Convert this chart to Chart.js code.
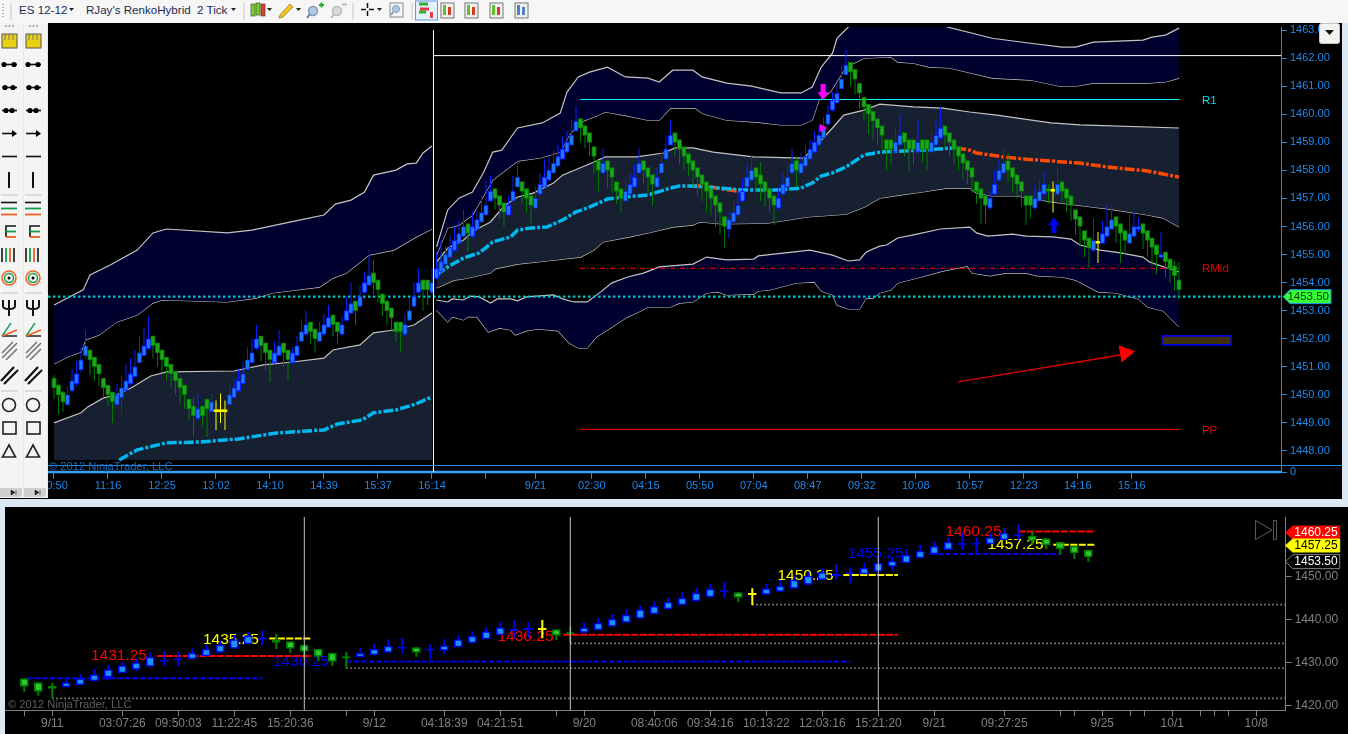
<!DOCTYPE html>
<html>
<head>
<meta charset="utf-8">
<title>ES 12-12</title>
<script src="https://cdn.jsdelivr.net/npm/chart.js@4"></script>
<style>
html,body{margin:0;padding:0;width:1348px;height:734px;overflow:hidden;background:#dce8f5;font-family:"Liberation Sans",Arial,sans-serif;}
.abs{position:absolute;}
#topbar{left:0;top:0;width:1348px;height:23px;background:#f6f6f6;font-size:11.6px;color:#1a2a50;}
#topbar span{position:absolute;top:3px;white-space:pre;}
#topWrap{left:0;top:17px;width:1342px;height:482px;background:#000;}
#lowWrap{left:0;top:507px;width:1348px;height:227px;background:#000;}
#lowMargin{left:0;top:507px;width:5px;height:227px;background:#dce8f5;}
.copy{white-space:nowrap;font-size:11.2px;}
</style>
</head>
<body>
<div class="abs" id="topWrap"><canvas id="priceChart" width="1342" height="482"></canvas></div>
<div class="abs" id="lowWrap"><canvas id="dailyChart" width="1348" height="227"></canvas></div>
<div class="abs" id="lowMargin"></div>
<div class="abs copy" style="left:49px;top:460px;color:#1c68b8;">© 2012 NinjaTrader, LLC</div>
<div class="abs copy" style="left:8px;top:698px;color:#5e5e5e;">© 2012 NinjaTrader, LLC</div>
<div class="abs" id="topbar">
<span style="left:19px;">ES 12-12</span>
<span style="left:86px;">RJay's RenkoHybrid  2 Tick</span>
<svg class="abs" width="1348" height="23" style="left:0;top:0;">
<path d="M11 3V20" stroke="#c8c8c8"/><path d="M3 4v14" stroke="#b0b0b0" stroke-dasharray="1 2" stroke-width="2"/>
<path d="M69 8h5l-2.500 3z M231 8h5l-2.500 3z M267 8h5l-2.500 3z M296 8h5l-2.500 3z M377 8h5l-2.500 3z" fill="#222"/>
<path d="M244 3V20 M353 3V20 M412 3V20" stroke="#c8c8c8"/>
<rect x="251" y="4" width="4" height="12" fill="#7ad02a" stroke="#333" stroke-width=".6"/>
<rect x="256" y="3" width="4" height="12" fill="#7ad02a" stroke="#333" stroke-width=".6"/>
<rect x="261" y="4" width="4" height="12" fill="#e04020" stroke="#333" stroke-width=".6"/>
<path d="M280 15L290 4l3 3-10 10-4 1z" fill="#f2c820" stroke="#8a6a10" stroke-width=".7"/>
<circle cx="313" cy="11" r="4.500" fill="#a8c8ee" stroke="#8a9aaa" stroke-width="1.500"/><path d="M310 14l-3 4" stroke="#6080b0" stroke-width="2"/><path d="M319 5h5M321.500 2.500v5" stroke="#20b020" stroke-width="2"/>
<circle cx="337" cy="11" r="4.500" fill="#d8d8d8" stroke="#bbb" stroke-width="1.500"/><path d="M334 14l-3 4" stroke="#bbb" stroke-width="2"/><path d="M342 4.500h5" stroke="#bbb" stroke-width="2"/>
<path d="M361 9.500h5M369 9.500h5M367.500 3v5M367.500 11v5" stroke="#111" stroke-width="1.500"/>
<rect x="390" y="3" width="13" height="14" fill="#f4f4f4" stroke="#888"/><circle cx="396" cy="9" r="3.500" fill="#a8c8ee" stroke="#8a9aaa"/><path d="M393 12l-2 3" stroke="#8090a0" stroke-width="1.500"/>
<rect x="415.500" y="1" width="22" height="19" fill="#e4f0fc" stroke="#5a9ae0"/>
<path d="M419 4h9M419 12h7" stroke="#30b030" stroke-width="3"/><path d="M420 9h9" stroke="#e04040" stroke-width="3"/><rect x="430" y="12" width="3" height="6" fill="#e04040"/>
<g id="tbIcons"></g>
</svg>
</div>
<svg class="abs" id="leftTools" width="48" height="500" style="left:0;top:0;"></svg>
<svg class="abs" width="22" height="22" style="left:1319px;top:23px;">
<rect x=".5" y=".5" width="20" height="20" rx="2" fill="#f2f2f2" stroke="#c4c4c4"/><path d="M6 7h9l-4.500 5z" fill="#111"/>
</svg>
<svg class="abs" width="24" height="24" style="left:1254px;top:518px;">
<path d="M1.500 2.500V21.500L18 12z M19.500 2.500h3v19h-3z" fill="none" stroke="#5a5a5a" stroke-width="1"/>
</svg>

<script>
// ---------- upper panel: 2 tick renko bars ----------
const opens = [
1450.6,1450.35,1450.1,1449.65,1450.15,1450.4,1450.9,1451.4,1451.6,1451.35,
1451.1,1450.6,1450.35,1450.1,1449.65,1449.9,1450.15,1450.4,1450.65,1451.15,
1451.4,1451.65,1452.1,1451.85,1451.6,1451.35,1451.1,1450.85,1450.6,1450.35,
1449.85,1449.6,1449.15,1449.6,1449.85,1449.4,1449.4,1449.4,1449.4,1449.65,
1449.9,1450.15,1450.4,1450.9,1451.15,1451.65,1452.1,1451.85,1451.6,1451.15,
1451.4,1451.85,1451.6,1451.15,1451.4,1451.9,1452.15,1452.6,1452.35,1451.9,
1452.15,1452.4,1452.85,1452.6,1452.15,1452.65,1452.9,1453.35,1453.15,1453.65,
1453.9,1454.35,1454.1,1453.6,1453.35,1453.1,1452.6,1452.6,1452.15,1452.65,
1453.15,1453.65,1454.1,1454.1,1453.65,1454.15,1454.4,1454.65,1454.9,1455.15,
1455.4,1455.65,1456.1,1455.65,1455.9,1456.15,1456.4,1456.9,1457.35,1457.1,
1456.85,1456.4,1456.9,1457.4,1457.6,1457.35,1457.1,1456.65,1457.15,1457.4,
1457.65,1457.9,1458.15,1458.4,1458.65,1458.9,1459.4,1459.85,1459.6,1459.35,
1458.85,1458.35,1457.9,1458.35,1458.1,1457.6,1457.35,1456.9,1457.15,1457.4,
1457.9,1458.35,1458.1,1457.85,1457.4,1457.9,1458.4,1458.9,1459.35,1459.1,
1458.85,1458.6,1458.35,1458.1,1457.85,1457.6,1457.35,1457.1,1456.85,1456.35,
1455.9,1456.15,1456.4,1456.9,1457.4,1457.65,1458.1,1457.85,1457.6,1457.35,
1457.1,1456.65,1457.15,1457.4,1457.9,1458.35,1457.9,1458.15,1458.4,1458.65,
1458.9,1459.15,1459.65,1460.15,1460.4,1460.9,1461.4,1461.85,1461.6,1461.1,
1460.6,1460.35,1460.1,1459.85,1459.6,1459.1,1459.1,1458.65,1458.9,1459.35,
1459.1,1459.1,1458.65,1459.1,1459.1,1458.65,1458.9,1459.15,1459.6,1459.35,
1459.1,1458.85,1458.6,1458.35,1458.1,1457.6,1457.35,1457.1,1456.65,1457.15,
1457.65,1457.9,1458.35,1458.1,1457.85,1457.6,1457.1,1457.1,1456.65,1456.9,
1457.15,1457.35,1457.25,1457.15,1457.6,1457.35,1457.1,1456.6,1456.35,1455.85,
1455.6,1455.15,1455.4,1455.4,1455.65,1455.9,1456.35,1456.1,1455.85,1455.4,
1455.65,1455.9,1456.1,1455.85,1455.6,1455.35,1454.9,1455.1,1454.85,1454.6,
1454.1];
const closes = [
1450.25,1450,1449.75,1450,1450.5,1450.75,1451.25,1451.75,1451.25,1451,
1450.75,1450.25,1450,1449.75,1450,1450.25,1450.5,1450.75,1451,1451.5,
1451.75,1452,1451.75,1451.5,1451.25,1451,1450.75,1450.5,1450.25,1450,
1449.5,1449.25,1449.5,1449.25,1449.5,1449.75,1449.4,1449.4,1449.4,1450,
1450.25,1450.5,1450.75,1451.25,1451.5,1452,1451.75,1451.5,1451.25,1451.5,
1451.75,1451.5,1451.25,1451.5,1451.75,1452.25,1452.5,1452.25,1452,1452.25,
1452.5,1452.75,1452.5,1452.25,1452.5,1453,1453.25,1453,1453.5,1454,
1454.25,1454,1453.75,1453.25,1453,1452.75,1452.25,1452.25,1452.5,1453,
1453.5,1454,1453.75,1453.75,1454,1454.5,1454.75,1455,1455.25,1455.5,
1455.75,1456,1455.75,1456,1456.25,1456.5,1456.75,1457.25,1457,1456.75,
1456.5,1456.75,1457.25,1457.75,1457.25,1457,1456.75,1457,1457.5,1457.75,
1458,1458.25,1458.5,1458.75,1459,1459.25,1459.75,1459.5,1459.25,1459,
1458.5,1458,1458.25,1458,1457.75,1457.25,1457,1457.25,1457.5,1457.75,
1458.25,1458,1457.75,1457.5,1457.75,1458.25,1458.75,1459.25,1459,1458.75,
1458.5,1458.25,1458,1457.75,1457.5,1457.25,1457,1456.75,1456.5,1456,
1456.25,1456.5,1456.75,1457.25,1457.75,1458,1457.75,1457.5,1457.25,1457,
1456.75,1457,1457.5,1457.75,1458.25,1458,1458.25,1458.5,1458.75,1459,
1459.25,1459.5,1460,1460.5,1460.75,1461.25,1461.75,1461.5,1461.25,1460.75,
1460.25,1460,1459.75,1459.5,1459.25,1458.75,1458.75,1459,1459.25,1459,
1458.75,1458.75,1459,1458.75,1458.75,1459,1459.25,1459.5,1459.25,1459,
1458.75,1458.5,1458.25,1458,1457.75,1457.25,1457,1456.75,1457,1457.5,
1458,1458.25,1458,1457.75,1457.5,1457.25,1456.75,1456.75,1457,1457.25,
1457.5,1457.25,1457.25,1457.5,1457.25,1457,1456.75,1456.25,1456,1455.5,
1455.25,1455.5,1455.4,1455.75,1456,1456.25,1456,1455.75,1455.5,1455.75,
1456,1456,1455.75,1455.5,1455.25,1455,1455,1454.75,1454.5,1454.25,
1453.75];
const highs = [
1450.7,1450.4,1450.15,1450.3,1450.9,1451.2,1451.7,1452.3,1451.6,1451.35,
1451.1,1450.6,1450.35,1450.1,1450.4,1450.7,1451.1,1451.3,1451.6,1452.1,
1452.4,1452.8,1452.1,1451.85,1451.6,1451.35,1451.1,1450.85,1450.6,1450.35,
1449.85,1449.9,1450.05,1449.6,1449.85,1450.05,1449.8,1450.05,1449.8,1450.4,
1450.6,1450.9,1451.2,1451.7,1452,1452.5,1452.1,1451.85,1451.6,1451.9,
1452.3,1451.85,1451.6,1451.7,1452.1,1452.7,1453,1452.6,1452.35,1452.6,
1452.9,1453.2,1452.85,1452.6,1452.8,1453.5,1454,1453.35,1453.9,1454.4,
1455,1454.8,1454.1,1453.6,1453.35,1453.1,1452.6,1452.6,1452.9,1453.4,
1454,1454.5,1454.1,1454.1,1454.5,1455.1,1455.5,1455.3,1455.7,1456,
1456.2,1456.6,1456.1,1456.5,1456.6,1457.1,1457.6,1457.8,1457.35,1457.1,
1456.85,1457.1,1457.8,1458.4,1457.6,1457.35,1457.1,1457.4,1457.9,1458.4,
1458.5,1458.7,1458.9,1459.2,1459.4,1459.8,1460.3,1459.85,1459.6,1459.35,
1458.85,1458.35,1458.8,1458.35,1458.1,1457.6,1457.35,1457.7,1457.9,1458.2,
1458.8,1458.35,1458.1,1457.85,1458.1,1458.7,1459.2,1459.8,1459.35,1459.1,
1458.85,1458.6,1458.35,1458.1,1457.85,1457.6,1457.35,1457.1,1456.85,1456.35,
1456.5,1456.9,1457.3,1457.7,1458.2,1458.55,1458.1,1458.3,1457.6,1457.35,
1457.1,1457.4,1457.9,1458.2,1458.8,1458.5,1458.6,1458.9,1459.1,1459.4,
1459.6,1459.9,1460.3,1460.8,1461.1,1461.7,1462.3,1461.85,1461.6,1461.1,
1460.6,1460.35,1460.1,1459.85,1459.6,1459.1,1459.1,1459.5,1460,1459.35,
1459.1,1459.1,1459.8,1459.1,1459.1,1459.4,1459.8,1460.25,1459.6,1459.35,
1459.1,1458.85,1458.6,1458.35,1458.1,1457.6,1457.35,1457.1,1457.3,1458,
1458.4,1458.8,1458.6,1458.1,1457.85,1457.6,1457.1,1457.1,1457.5,1457.7,
1458,1457.5,1457.6,1458.1,1457.6,1457.35,1457.1,1456.6,1456.35,1455.85,
1455.6,1456.3,1455.8,1456.2,1456.75,1456.7,1456.35,1456.1,1455.85,1456.5,
1456.5,1456.3,1456.1,1455.85,1455.6,1455.35,1455.8,1455.1,1454.85,1454.75,
1454.75];
const lows = [
1449.85,1449.3,1449.4,1449.6,1450.1,1450.3,1450.8,1451.3,1450.7,1450.5,
1450.3,1449.9,1449.6,1449,1449.6,1449.3,1450.1,1450.3,1450.6,1451.1,
1451.4,1451.6,1451.3,1451,1450.8,1450.5,1450.3,1450,1449.7,1449.5,
1449.1,1448.5,1449.1,1448.9,1448.5,1449.4,1448.75,1449,1448.75,1449.6,
1449.9,1450.1,1450.4,1450.9,1451.1,1451.6,1451.2,1450.9,1450.45,1451.1,
1451.4,1451,1450.5,1451.1,1451.4,1451.9,1452.1,1451.8,1451.5,1451.9,
1452.1,1452.4,1452.1,1451.8,1452.1,1452.6,1452.9,1452.5,1453.1,1453.6,
1453.9,1453.6,1453.3,1452.8,1452.5,1452.3,1451.9,1451.5,1452.1,1452.6,
1453.1,1453.6,1453,1453.2,1453.6,1454.1,1454.3,1454.6,1454.9,1455.1,
1455.4,1455.6,1455.1,1455.6,1455.9,1456.1,1456.4,1456.9,1456.6,1456.3,
1456,1456.4,1456.9,1457.4,1456.8,1456.5,1456.1,1456.6,1457.1,1457.4,
1457.6,1457.9,1458.1,1458.4,1458.6,1458.9,1459.4,1459,1458.8,1458.5,
1457.9,1457.25,1457.9,1457.4,1457.2,1456.8,1456.5,1456.9,1457.1,1457.4,
1457.9,1457.5,1457.2,1456.75,1457.4,1457.9,1458.4,1458.9,1458.5,1458.2,
1458,1457.8,1457.4,1457.1,1456.9,1456.5,1456.4,1456,1455.7,1455.25,
1455.6,1456.1,1456.4,1456.9,1457.4,1457.6,1457.2,1456.9,1456.7,1456.5,
1456.05,1456.6,1457.1,1457.4,1457.9,1457.4,1457.9,1458.1,1458.4,1458.6,
1458.9,1459.1,1459.6,1460.1,1460.4,1460.9,1461.4,1461,1460.7,1460.2,
1459.8,1459.3,1459.1,1458.9,1458.7,1458,1458.2,1458.6,1458.9,1458.5,
1458,1458.2,1458.6,1458.3,1458,1458.6,1458.9,1459.1,1458.8,1458.5,
1458.2,1458,1457.7,1457.5,1457.2,1456.8,1456.1,1456.1,1456.6,1457.1,
1457.6,1457.9,1457.6,1457.2,1457,1456.7,1456.05,1456.3,1456.6,1456.9,
1457.1,1456.8,1456.5,1457.1,1456.8,1456.5,1456.2,1455.7,1455.3,1454.9,
1454.5,1455.1,1454.7,1455.4,1455.6,1455.9,1455.4,1454.7,1455,1455.4,
1455.6,1455.8,1455.2,1454.9,1454.6,1454.3,1454.9,1454.2,1454,1453.7,
1453.4];

// bands: [bar, price]. first three belong to the old session, the rest to the new one
const oldTop = [[0,1453.2],[6.5,1453.74],[8,1454.27],[12.5,1454.63],[18.5,1455.16],[22,1455.77],[25,1455.91],[38.5,1455.77],[44,1455.87],[54.5,1456.23],[60,1456.41],[62.5,1456.8],[66,1456.94],[69,1457.23],[71,1457.83],[76,1458.01],[78.5,1458.23],[80.5,1458.26],[82,1458.62],[84,1458.87]];
const oldLow = [[0,1451.1],[3,1451.35],[6,1451.53],[7,1451.96],[10,1452.13],[14,1452.6],[18.5,1452.85],[22,1453.27],[24,1453.38],[38.5,1453.31],[45,1453.45],[48.5,1453.63],[59,1453.84],[62,1454.16],[65,1454.34],[70,1454.98],[75.5,1455.16],[80.5,1455.63],[84,1455.91]];
const oldMid = [[0,1449],[6,1449.36],[7.5,1449.57],[11,1449.89],[14,1450],[17.5,1450.28],[21.5,1450.67],[25,1450.82],[40,1450.85],[46.5,1451.07],[53,1451.17],[60,1451.31],[62,1451.6],[68,1451.78],[71,1452.21],[75.5,1452.31],[80,1452.49],[84,1452.92]];
const oldFloor = 1447.68;
const bandATop = [[85,1455.27],[87.5,1456.59],[90,1457.01],[93,1457.23],[95.5,1457.94],[97.5,1458.65],[99.5,1458.72],[103,1459.51],[108.5,1459.69],[112.5,1460.04],[114,1460.79],[116.5,1461.33],[119,1461.5],[123,1461.68],[127,1461.33],[132,1461.29],[134.5,1461.15],[137.5,1461.57],[142,1461.57],[144,1461.33],[149.5,1461.11],[155,1461],[161.5,1460.76],[166,1460.76],[168.5,1460.97],[170.5,1461.68],[173,1462.18],[174,1462.71],[176.5,1463.11],[179.5,1463.6],[195,1463.6],[198.5,1463.11],[208.5,1462.71],[216.5,1462.54],[224,1462.39],[227,1462.39],[231,1462.57],[242,1462.64],[244,1462.75],[247,1462.82],[250,1463.07]];
const bandABot = [[85,1454.98],[87.5,1455.95],[90,1456.05],[93,1456.41],[97.5,1457.66],[103,1458.33],[108,1458.44],[112.5,1458.65],[114.5,1459.26],[117,1459.72],[120,1459.9],[122.5,1460.08],[126.5,1459.97],[132,1459.79],[134.5,1459.79],[137,1460.22],[142.5,1460.22],[144,1460.04],[149.5,1459.79],[156,1459.72],[161.5,1459.62],[166,1459.62],[168.5,1459.79],[170,1460.51],[172.5,1460.79],[176,1461.68],[180,1462],[186,1462.04],[187.5,1461.86],[191,1461.82],[194.5,1461.68],[199,1461.65],[208.5,1461.29],[217,1461.22],[223.5,1461],[227,1461],[231,1461.11],[243,1461.11],[247,1461.15],[250,1461.29]];
const bandBTop = [[85,1454.73],[87.5,1455.23],[91,1455.52],[93.5,1455.87],[97,1456.16],[100,1456.73],[103,1457.05],[106.5,1457.19],[111,1457.55],[113,1457.83],[120,1458.3],[122.5,1458.48],[129.5,1458.48],[135.5,1458.62],[138,1458.8],[142,1458.8],[146.5,1458.65],[155.5,1458.48],[166.5,1458.44],[168.5,1458.72],[170.5,1459.08],[173,1459.51],[175.5,1459.97],[180,1460.15],[183.5,1460.36],[191,1460.26],[197.5,1460.22],[203.5,1460.08],[209.5,1459.97],[221.5,1459.69],[228,1459.62],[250,1459.51]];
const bandBBot = [[85,1453.81],[89,1454.09],[91,1454.13],[97,1454.34],[98,1454.49],[103,1454.66],[109.5,1454.77],[117,1454.91],[120,1455.16],[122,1455.45],[128,1455.63],[132,1455.77],[137.5,1455.98],[142,1456.05],[143.5,1456.16],[148.5,1456.09],[158.5,1456.12],[167.5,1456.34],[176,1456.44],[180,1456.69],[183.5,1457.01],[188,1457.12],[193,1457.23],[198.5,1457.37],[203.5,1457.37],[205,1457.19],[208.5,1457.09],[214,1457.09],[222,1456.87],[231,1456.69],[234.5,1456.62],[243,1456.41],[246.5,1456.3],[250,1455.98]];
const bandCTop = [[85,1453.38],[87.5,1453.31],[88.5,1453.42],[91,1453.38],[92.5,1453.52],[94.5,1453.49],[97,1453.27],[98.5,1453.42],[101.5,1453.42],[103,1453.35],[105,1453.49],[111,1453.56],[113,1453.42],[115.5,1453.31],[118.5,1453.31],[121.5,1453.67],[124,1453.99],[127.5,1454.2],[131,1454.34],[134.5,1454.56],[142,1454.66],[145,1454.91],[149.5,1454.81],[155.5,1454.84],[156.5,1454.95],[168,1455.16],[173,1454.98],[176.5,1454.77],[179,1454.81],[180.5,1455.09],[183.5,1455.3],[185,1455.34],[187.5,1455.59],[191,1455.7],[197,1455.91],[203.5,1455.98],[205,1455.77],[207.5,1455.66],[213,1455.73],[216,1455.66],[222,1455.63],[226,1455.55],[228,1455.34],[232.5,1455.16],[237,1455.06],[242,1454.91],[243.5,1454.73],[250,1454.38]];
const bandCBot = [[85,1453.02],[87.5,1452.6],[88.5,1452.78],[91,1452.67],[92,1452.78],[94,1452.78],[96.5,1452.24],[99,1452.38],[101.5,1452.31],[102.5,1452.13],[105,1452.28],[107.5,1452.35],[112,1452.28],[114.5,1451.85],[116.5,1451.67],[118.5,1451.67],[120.5,1452.06],[124,1452.42],[127.5,1452.78],[129.5,1452.92],[132,1453.13],[137,1453.13],[139,1453.27],[142,1453.31],[145,1453.63],[147.5,1453.67],[149.5,1453.56],[155.5,1453.59],[156.5,1453.7],[159,1453.74],[165,1453.99],[169,1454.02],[170.5,1453.7],[173,1453.56],[174,1453.2],[176.5,1453.06],[179,1453.06],[180.5,1453.45],[182,1453.45],[183.5,1453.63],[186,1453.74],[187.5,1453.99],[191,1454.13],[197.5,1454.41],[203,1454.59],[204,1454.34],[208,1454.24],[211.5,1454.34],[216,1454.34],[218.5,1454.24],[224,1454.2],[227,1454.09],[232,1453.67],[236,1453.63],[241,1453.42],[243,1453.13],[246.5,1452.99],[250,1452.42]];
const vwapOld = [[14.5,1447.68],[18.5,1448.04],[25,1448.29],[32.5,1448.32],[41,1448.43],[49.5,1448.64],[60,1448.75],[63,1448.96],[68.5,1449.11],[71,1449.36],[76,1449.46],[80.5,1449.68],[84,1449.93]];
const vwapNew = [[85,1454.27],[87.5,1454.56],[91,1454.88],[94.5,1455.06],[97.5,1455.45],[101.5,1455.63],[103,1455.87],[106,1455.95],[109.5,1455.98],[113,1456.23],[116,1456.52],[119,1456.69],[123,1456.98],[126.5,1457.05],[132,1457.12],[137,1457.37],[139,1457.44],[142,1457.44],[148,1457.37],[153,1457.3],[160.5,1457.3],[166,1457.37],[168.5,1457.55],[170.5,1457.8],[173,1457.91],[176,1458.12],[180,1458.55],[183.5,1458.65],[192.5,1458.72],[200,1458.8]];
const orangeEarly = [[142,1457.44],[145,1457.44],[148.5,1457.34],[152,1457.26],[153.5,1457.28]];
const orangeLate = [[200.5,1458.8],[203.5,1458.72],[205,1458.62],[211,1458.48],[216,1458.4],[222,1458.33],[228,1458.26],[234,1458.12],[243,1457.98],[250,1457.76]];

const lastPrice = 1453.5;
const priorHigh = 1462.09;
const pivotR1 = 1460.526;
const pivotRMid = 1454.51;
const pivotPP = 1448.77;
const pivotFrom = 116.9;
const pivotTo = 250.2;
const sessionBar = 84.33;

const drawnArrow = [[200.9,1450.46],[236.9,1451.42]];
const arrowTip = [[238,1451.49]];
const drawnBox = [[246.2,1452.1],[261.6,1452.1],[261.6,1451.78],[246.2,1451.78],[246.2,1452.1]];
const sellArrows = [[170.9,1460.79]];
const sellTriangle = [[170.7,1459.51]];
const buyArrows = [[222.2,1456.05]];

const xTickBars = [0,12,24,36,48,60,72,84,96,107,119.5,131.5,143.5,155.5,167.5,179.5,191.5,203.5,215.5,227.5,239.5];
const xTickLabels = ["10:50","11:16","12:25","13:02","14:10","14:39","15:37","16:14","","9/21","02:30","04:15","05:50","07:04","08:47","09:32","10:08","10:57","12:23","14:16","15:16"];
const yTickValues = [1447.25,1448,1449,1450,1451,1452,1453,1454,1455,1456,1457,1458,1459,1460,1461,1462,1463];
const pivotLabels = ["R1","RMid","PP"];

// ---------- lower panel: daily style bars ----------
const dayOpens = [1426.36,1425.43,1424.58,1424.27,1424.73,1425.67,1426.6,1427.53,1428.38,1429.08,1430.24,1430.55,1430.78,1431.48,1432.33,1433.26,1434.27,1435.35,1435.35,1434.97,1434.19,1433.26,1432.33,1431.48,1431.25,1431.71,1432.33,1433.26,1433.57,1432.8,1432.8,1433.57,1434.5,1435.43,1436.36,1437.37,1437.6,1437.6,1437.76,1437.06,1436.98,1437.53,1438.38,1439.31,1440.24,1441.25,1442.41,1443.34,1444.27,1445.2,1446.36,1446.36,1445.74,1445.82,1446.52,1447.22,1448.15,1449.23,1450.16,1450.55,1450.55,1451.17,1452.33,1453.11,1454.27,1455.2,1456.21,1457.37,1457.45,1457.53,1458.46,1459.39,1459.54,1458.92,1458.07,1457.22,1456.29];
const dayCloses = [1424.42,1423.26,1423.96,1425.43,1426.36,1427.29,1428.46,1429.39,1430.08,1431.4,1430.7,1431.01,1432.33,1433.26,1434.19,1435.43,1436.29,1435.67,1434.66,1433.26,1432.56,1431.4,1430.24,1431.01,1432.33,1433.26,1433.96,1433.65,1432.33,1433.18,1434.04,1435.43,1436.29,1437.29,1438.22,1437.76,1437.99,1437.6,1436.29,1436.6,1438.22,1439.31,1440.24,1441.17,1442.41,1443.18,1444.19,1445.12,1446.29,1447.22,1446.6,1445.12,1445.74,1447.29,1447.91,1449.31,1450.24,1451.01,1450.47,1450.78,1452.1,1453.26,1453.73,1455.12,1456.05,1457.14,1458.15,1457.76,1457.84,1459.15,1460.24,1459.85,1458.38,1457.29,1456.36,1455.43,1454.5];
const dayHighs = [1426.36,1425.43,1425.35,1426.36,1427.37,1428.46,1429.46,1430.24,1431.01,1432.41,1432.72,1432.56,1433.34,1434.27,1435.12,1436.44,1437.22,1437.6,1436.67,1434.97,1434.19,1433.26,1432.33,1432.56,1433.34,1434.35,1435.43,1435.74,1433.57,1434.35,1435.43,1436.36,1437.29,1438.22,1439.46,1439.93,1439.46,1439.93,1437.76,1438.22,1439.46,1440.39,1441.32,1442.41,1443.34,1444.27,1445.2,1446.36,1447.29,1448.3,1448.77,1446.36,1447.29,1448.3,1449.23,1450.39,1451.17,1451.94,1452.95,1452.18,1453.34,1454.27,1454.66,1456.36,1457.37,1458.22,1459.15,1460.47,1459.15,1460.08,1461.25,1462.25,1460.47,1458.92,1458.07,1457.22,1456.29];
const dayLows = [1423.26,1422.33,1421.71,1424.27,1424.73,1425.67,1425.98,1427.53,1428.07,1429.08,1429.31,1429.08,1430.78,1431.48,1432.33,1433.26,1434.27,1434.11,1433.11,1432.18,1431.01,1430.47,1429.23,1428.69,1431.25,1431.71,1432.33,1432.18,1431.4,1430.78,1432.02,1433.57,1434.5,1435.43,1436.36,1435.67,1435.67,1435.67,1435.28,1434.5,1436.98,1437.53,1438.38,1439.31,1440.24,1441.25,1442.41,1443.34,1444.27,1445.2,1445.12,1444.11,1443.42,1445.82,1446.52,1447.22,1448.15,1449.23,1449.39,1448.46,1450.55,1451.17,1451.32,1453.11,1454.27,1455.2,1456.21,1456.21,1455.28,1457.53,1458.46,1458.53,1457.37,1456.36,1455.12,1454.11,1453.49];

const dayTickBars = [0,2,7,11,15,19,23,25,30,34,38,40,45,49,53,57,61,65,70,74,75,77,79,80,82,84,85,86,88];
const dayTickLabels = ["","9/11","03:07:26","09:50:03","11:22:45","15:20:36","","9/12","04:18:39","04:21:51","","9/20","08:40:06","09:34:16","10:13:22","12:03:16","15:21:20","9/21","09:27:25","","","9/25","","","10/1","","","","10/8"];
const dayYTicks = [1420,1430,1440,1450];
const dotLevels = [1443.5,1434.5,1428.7,1421.7];
const dotStarts = [52,39,23,2];
const lowLevels = [1426.4,1430.3,1455.3];
const lowFrom = [0.2,23,64.7];
const lowTo = [17,59,74];
const highLevels = [1431.55,1436.5,1460.5];
const highFrom = [9.5,38.5,71];
const highTo = [20.5,62.4,76.5];
const midLevels = [1435.6,1450.4,1457.4];
const midFrom = [17.5,58.5,73.5];
const midTo = [20.5,62.4,76.5];
const sessionBars = [20,39,61];
const levelTexts = ["1431.25","1435.25","1430.25","1436.25","1450.25","1455.25","1460.25","1457.25"];
const levelBars = [4.76,12.76,17.76,33.8,53.8,58.8,65.8,68.8];
const levelPrices = [1431.55,1435.4,1430.2,1436,1450.2,1455.3,1460.4,1457.4];
const levelColors = ["#ff0000","#ffff00","#0000ff","#ff0000","#ffff00","#0000ff","#ff0000","#ffff00"];

// ---------- helpers ----------
const asPoints = rows => rows.map(r => ({x:r[0],y:r[1]}));

function line(rows,color,width,dash,order,extra){
	return Object.assign({
		type:"line",
		data:asPoints(rows),
		borderColor:color,
		borderWidth:width,
		borderDash:dash || [],
		pointRadius:0,
		tension:0,
		fill:false,
		order:order
	},extra || {});
}

function band(rows,fillColor){
	return line(rows,"#c4c4c4",1.2,null,10,{
		fill:{target:"+1",above:fillColor,below:fillColor}
	});
}

function candleColor(o,c,up,down){
	if(o === c) return "#ffff00";
	return c > o ? up : down;
}

function candleSets(o,c,h,l,wickWidth,bodyRatio,edgeWidth,fills,edges){
	return [
		{
			type:"bar",
			data:h.map((v,i)=>({x:i,y:[l[i],v]})),
			backgroundColor:ctx => candleColor(o[ctx.dataIndex],c[ctx.dataIndex],edges[0],edges[1]),
			grouped:false,
			categoryPercentage:1,
			maxBarThickness:wickWidth,
			order:3
		},
		{
			type:"bar",
			data:o.map((v,i)=>({x:i,y:[v,c[i]]})),
			backgroundColor:ctx => candleColor(o[ctx.dataIndex],c[ctx.dataIndex],fills[0],fills[1]),
			borderColor:ctx => candleColor(o[ctx.dataIndex],c[ctx.dataIndex],edges[0],edges[1]),
			borderWidth:edgeWidth,
			borderSkipped:false,
			grouped:false,
			categoryPercentage:1,
			barPercentage:bodyRatio,
			minBarLength:2,
			order:2
		}
	];
}

function arrowStamp(color,down){
	const c = document.createElement("canvas");
	c.width = 11; c.height = 16;
	const g = c.getContext("2d");
	g.fillStyle = color;
	g.translate(0,down ? 0 : 16);
	g.scale(1,down ? 1 : -1);
	g.fillRect(3,0,5,9);
	g.beginPath();
	g.moveTo(0,8); g.lineTo(11,8); g.lineTo(5.5,16);
	g.fill();
	return c;
}

function priceTag(ctx,left,right,yc,h,fill,stroke,text,textColor,font){
	ctx.save();
	ctx.beginPath();
	ctx.moveTo(left,yc);
	ctx.lineTo(left+7,yc-h/2);
	ctx.lineTo(right,yc-h/2);
	ctx.lineTo(right,yc+h/2);
	ctx.lineTo(left+7,yc+h/2);
	ctx.closePath();
	ctx.fillStyle = fill;
	ctx.fill();
	ctx.strokeStyle = stroke;
	ctx.lineWidth = 1;
	ctx.stroke();
	ctx.fillStyle = textColor;
	ctx.font = font;
	ctx.textAlign = "right";
	ctx.textBaseline = "middle";
	ctx.fillText(text,right-2,yc+0.5);
	ctx.restore();
}

Chart.defaults.animation = false;
Chart.defaults.responsive = false;
Chart.defaults.events = [];
Chart.defaults.font.family = '"Liberation Sans",Arial,sans-serif';

// ---------- upper chart ----------
const priceMarks = {
	id:"priceMarks",
	afterDatasetsDraw(chart){
		const {ctx,scales:{x,y}} = chart;
		const levels = [pivotR1,pivotRMid,pivotPP];
		const colors = ["#00d8ff","#e00000","#e00000"];
		ctx.save();
		ctx.font = "11.5px 'Liberation Sans'";
		ctx.textBaseline = "middle";
		pivotLabels.forEach((t,i)=>{
			ctx.fillStyle = colors[i];
			ctx.fillText(t,x.getPixelForValue(255.1),y.getPixelForValue(levels[i])+1);
		});
		ctx.strokeStyle = "#2a8ae8";
		ctx.lineWidth = 1;
		ctx.beginPath();
		ctx.moveTo(x.left,y.bottom-6.5);
		ctx.lineTo(1342,y.bottom-6.5);
		ctx.stroke();
		ctx.restore();
		priceTag(ctx,y.left+2,y.left+50,y.getPixelForValue(lastPrice),14,"#33ff33","#1e90ff","1453.50","#003000","11.5px 'Liberation Sans'");
	}
};

new Chart(document.getElementById("priceChart"),{
	type:"line",
	data:{
		datasets:[
			band(oldTop,"#00002e"),
			line(oldLow,"#c4c4c4",1.2,null,10),
			line(oldMid,"#c4c4c4",1.2,null,10,{fill:{target:{value:oldFloor},above:"#162030",below:"#162030"}}),
			band(bandATop,"#00002e"),
			line(bandABot,"#c4c4c4",1.2,null,10),
			band(bandBTop,"#162030"),
			line(bandBBot,"#c4c4c4",1.2,null,10),
			band(bandCTop,"#00002e"),
			line(bandCBot,"#c4c4c4",1.2,null,10),
			line([[-1.33,lastPrice],[272.67,lastPrice]],"#00c8c8",2.4,[2.4,2.6],4),
			line([[sessionBar,priorHigh],[272.67,priorHigh]],"#ffffff",1,null,8),
			line([[pivotFrom,pivotR1],[pivotTo,pivotR1]],"#00f0f8",1.2,null,8),
			line([[pivotFrom,pivotRMid],[pivotTo,pivotRMid]],"#ff0000",1,[5,2,1,2],8),
			line([[pivotFrom,pivotPP],[pivotTo,pivotPP]],"#d80000",1.1,null,8),
			line([[sessionBar,1447.25],[sessionBar,1463]],"#ffffff",1,null,1),
			line(orangeEarly,"#ff4a00",3.5,[10,2,3,2],6),
			line(orangeLate,"#ff4a00",3.5,[10,2,3,2],6),
			line(vwapOld,"#00b8f0",3.5,[10,2,3,2],5),
			line(vwapNew,"#00b8f0",3.5,[10,2,3,2],5),
			...candleSets(opens,closes,highs,lows,1,1,1,["#1e78ff","#1ea51e"],["#0a20ff","#007a00"]),
			line(drawnBox,"#0000e0",1.6,null,2,{fill:"shape",backgroundColor:"#403000"}),
			line(drawnArrow,"#e00000",1.4,null,1),
			{type:"scatter",data:asPoints(arrowTip),pointStyle:"triangle",rotation:80,pointRadius:10,backgroundColor:"#ff0000",borderWidth:0,order:1},
			{type:"scatter",data:asPoints(sellArrows),pointStyle:arrowStamp("#ff00ff",true),order:1},
			{type:"scatter",data:asPoints(sellTriangle),pointStyle:"triangle",rotation:90,pointRadius:5,backgroundColor:"#ff00ff",borderWidth:0,order:1},
			{type:"scatter",data:asPoints(buyArrows),pointStyle:arrowStamp("#0000ff",false),order:1},
			{type:"line",yAxisID:"zero",data:[{x:-1.33,y:0},{x:272.67,y:0}],borderColor:"#38a0f8",borderWidth:2.4,pointRadius:0,clip:false,order:1}
		]
	},
	options:{
		layout:{padding:{left:48,top:4,right:0,bottom:0}},
		plugins:{legend:{display:false},tooltip:{enabled:false}},
		scales:{
			x:{
				type:"linear",
				min:-1.333,
				max:272.667,
				offset:false,
				grid:{offset:false,drawOnChartArea:false,color:"#2a8ae8",tickLength:7},
				border:{color:"#2a8ae8"},
				afterBuildTicks:axis => { axis.ticks = xTickBars.map(value=>({value})); },
				afterFit:axis => { axis.height = 27; axis.paddingLeft = 0; axis.paddingRight = 0; },
				ticks:{
					autoSkip:false,
					maxRotation:0,
					padding:0,
					color:"#1e88e8",
					font:{size:11},
					callback:(v,i) => xTickLabels[i]
				}
			},
			y:{
				position:"right",
				min:1447.25,
				max:1463.11,
				grid:{drawOnChartArea:false,color:"#2a8ae8",tickLength:6},
				border:{color:"#2a8ae8"},
				afterBuildTicks:axis => { axis.ticks = yTickValues.map(value=>({value})); },
				afterFit:axis => { axis.width = 61; axis.paddingTop = 0; axis.paddingBottom = 0; },
				ticks:{
					autoSkip:false,
					padding:3,
					color:"#1e88e8",
					font:{size:11},
					callback:v => v === 1447.25 ? "0" : v.toFixed(2)
				}
			},
			zero:{display:false,min:0,max:100}
		}
	},
	plugins:[priceMarks]
});

// ---------- lower chart ----------
const dayMarks = {
	id:"dayMarks",
	beforeDatasetsDraw(chart){
		const {ctx,scales:{x,y}} = chart;
		ctx.save();
		ctx.font = "15.5px 'Liberation Sans'";
		ctx.textBaseline = "middle";
		levelTexts.forEach((t,i)=>{
			ctx.fillStyle = levelColors[i];
			ctx.fillText(t,x.getPixelForValue(levelBars[i]),y.getPixelForValue(levelPrices[i]));
		});
		ctx.restore();
	},
	afterDraw(chart){
		const {ctx,scales:{y}} = chart;
		const font = "12px 'Liberation Sans'";
		priceTag(ctx,y.left,y.left+54,y.getPixelForValue(1460.25),13,"#ff0000","#ff0000","1460.25","#ffffff",font);
		priceTag(ctx,y.left,y.left+54,y.getPixelForValue(1457.25),13,"#ffff00","#ffff00","1457.25","#000000",font);
		priceTag(ctx,y.left,y.left+54,y.getPixelForValue(1453.5),14,"#000000","#808080","1453.50","#ffffff",font);
	}
};

const daySets = [];
dotLevels.forEach((p,i)=>daySets.push(line([[dotStarts[i],p],[90.1,p]],"#8a8a8a",1.6,[1.6,2.4],9)));
lowLevels.forEach((p,i)=>daySets.push(line([[lowFrom[i],p],[lowTo[i],p]],"#0000f0",2,[5.5,2],8)));
highLevels.forEach((p,i)=>daySets.push(line([[highFrom[i],p],[highTo[i],p]],"#ff0000",2,[7,1.5],8)));
midLevels.forEach((p,i)=>daySets.push(line([[midFrom[i],p],[midTo[i],p]],"#ffff00",2,[7,1.5],8)));
sessionBars.forEach(b=>daySets.push(line([[b,1418.93],[b,1463.88]],"#c4c4c4",1,null,1)));

new Chart(document.getElementById("dailyChart"),{
	type:"line",
	data:{datasets:[...daySets,...candleSets(dayOpens,dayCloses,dayHighs,dayLows,2,0.62,1.5,["#1e90ff","#2ec82e"],["#0000f0","#008000"])]},
	options:{
		layout:{padding:{left:5,top:10,right:0,bottom:0}},
		plugins:{legend:{display:false},tooltip:{enabled:false}},
		scales:{
			x:{
				type:"linear",
				min:-1.379,
				max:90.1,
				offset:false,
				grid:{offset:false,drawOnChartArea:false,color:"#808080",tickLength:6},
				border:{color:"#808080"},
				afterBuildTicks:axis => { axis.ticks = dayTickBars.map(value=>({value})); },
				afterFit:axis => { axis.height = 23.7; axis.paddingLeft = 0; axis.paddingRight = 0; },
				ticks:{
					autoSkip:false,
					maxRotation:0,
					padding:0,
					color:"#808080",
					font:{size:12},
					callback:(v,i) => dayTickLabels[i]
				}
			},
			y:{
				position:"right",
				min:1418.93,
				max:1463.88,
				grid:{drawOnChartArea:false,color:"#808080",tickLength:6},
				border:{color:"#808080"},
				afterBuildTicks:axis => { axis.ticks = dayYTicks.map(value=>({value})); },
				afterFit:axis => { axis.width = 62.3; axis.paddingTop = 0; axis.paddingBottom = 0; },
				ticks:{
					padding:3,
					color:"#808080",
					font:{size:12},
					callback:v => v.toFixed(2)
				}
			}
		}
	},
	plugins:[dayMarks]
});

// ---------- window chrome ----------
const barIcons = [441,465,490,515].map((x,i)=>
	`<rect x="${x}" y="3" width="13" height="15" fill="#f0f0f0" stroke="#777"/>`+
	`<rect x="${x+2}" y="5" width="3" height="10" fill="${i===3?"#5080c0":"#60c030"}"/>`+
	`<rect x="${x+7}" y="7" width="3" height="8" fill="${i===3?"#5080c0":"#d04020"}"/>`).join("");
document.getElementById("tbIcons").innerHTML = barIcons;

function toolColumn(dx){
	const cx = 9+dx;
	let s = `<rect x="${dx}" y="23" width="23" height="475" fill="#f4f4f4"/>`;
	s += `<path d="M${dx+23.500} 23V498" stroke="#e8e8e8"/>`;
	s += `<rect x="${cx-7}" y="34" width="15" height="14" fill="#e8d010" stroke="#555"/><path d="M${cx-4} 34v6M${cx} 34v6M${cx+4} 34v6" stroke="#777"/>`;
	[64.500,87.500,110.500].forEach((y,i)=>{
		const gap = [5,4,3][i];
		s += `<path d="M${cx-7} ${y}H${cx+8}" stroke="#111" stroke-width="1.600"/><circle cx="${cx-gap}" cy="${y}" r="2.600"/><circle cx="${cx+gap}" cy="${y}" r="2.600"/>`;
	});
	s += `<path d="M${cx-7} 133.500H${cx+6}" stroke="#111" stroke-width="1.600"/><path d="M${cx+3} 130l5 3.500-5 3.500z"/>`;
	s += `<path d="M${cx-7} 156.500H${cx+8}" stroke="#111" stroke-width="1.600"/><path d="M${cx} 172V188" stroke="#111" stroke-width="2"/>`;
	[195,293,391].forEach(y=>{ s += `<path d="M${cx-8} ${y}H${cx+9}" stroke="#c0c0c0"/>`; });
	s += `<path d="M${cx-8} 202.500H${cx+8}" stroke="#111" stroke-width="1.600"/><path d="M${cx-8} 208.500H${cx+8}" stroke="#10a050" stroke-width="1.800"/><path d="M${cx-8} 214.500H${cx+8}" stroke="#f06020" stroke-width="1.800"/>`;
	s += `<path d="M${cx-3} 237V226H${cx+7}" stroke="#111" fill="none" stroke-width="1.600"/><path d="M${cx-3} 231.500H${cx+7}" stroke="#10a050" stroke-width="1.800"/><path d="M${cx-3} 237H${cx+7}" stroke="#f06020" stroke-width="1.800"/>`;
	s += `<path d="M${cx-7} 248v14" stroke="#111" stroke-width="1.600"/><path d="M${cx-3} 248v14" stroke="#10a050" stroke-width="1.800"/><path d="M${cx+1} 248v14" stroke="#f06020" stroke-width="1.800"/><path d="M${cx+5} 248v14" stroke="#111" stroke-width="1.600"/>`;
	s += `<circle cx="${cx}" cy="278" r="7" fill="none" stroke="#f06020" stroke-width="1.500"/><circle cx="${cx}" cy="278" r="4.500" fill="none" stroke="#10a050" stroke-width="1.500"/><circle cx="${cx}" cy="278" r="1.500"/>`;
	s += `<path d="M${cx-6} 300v6q0 3 6 3t6-3v-6M${cx} 300v16" stroke="#111" fill="none" stroke-width="2"/>`;
	s += `<path d="M${cx-7} 336H${cx+8}" stroke="#111" stroke-width="1.400"/><path d="M${cx-7} 336L${cx+2} 323" stroke="#10a050" stroke-width="1.400"/><path d="M${cx-7} 336L${cx+8} 330" stroke="#f06020" stroke-width="1.400"/>`;
	s += `<path d="M${cx-7} 353l11-11M${cx-7} 358l15-15M${cx-3} 360l11-11" stroke="#777" stroke-width="1.600"/>`;
	s += `<path d="M${cx-8} 381l13-14M${cx-5} 384l14-14" stroke="#111" stroke-width="2.200"/>`;
	s += `<circle cx="${cx}" cy="405" r="6.500" fill="none" stroke="#222" stroke-width="1.600"/>`;
	s += `<rect x="${cx-6}" y="422" width="13" height="12" fill="none" stroke="#222" stroke-width="1.600"/>`;
	s += `<path d="M${cx} 445l6.500 12H${cx-6.500}z" fill="none" stroke="#222" stroke-width="1.600"/>`;
	s += `<rect x="${dx}" y="488" width="22" height="9" fill="#cfcfcf"/><path d="M${cx+2} 490l4 2.500-4 2.500z M${cx+7} 490v5" fill="#222" stroke="#222" stroke-width=".6"/>`;
	s += `<path d="M${cx-4} 26h9" stroke="#b0b0b0" stroke-width="2" stroke-dasharray="2 1.500"/>`;
	return s;
}
document.getElementById("leftTools").innerHTML = toolColumn(0)+toolColumn(24);
</script>
</body>
</html>
